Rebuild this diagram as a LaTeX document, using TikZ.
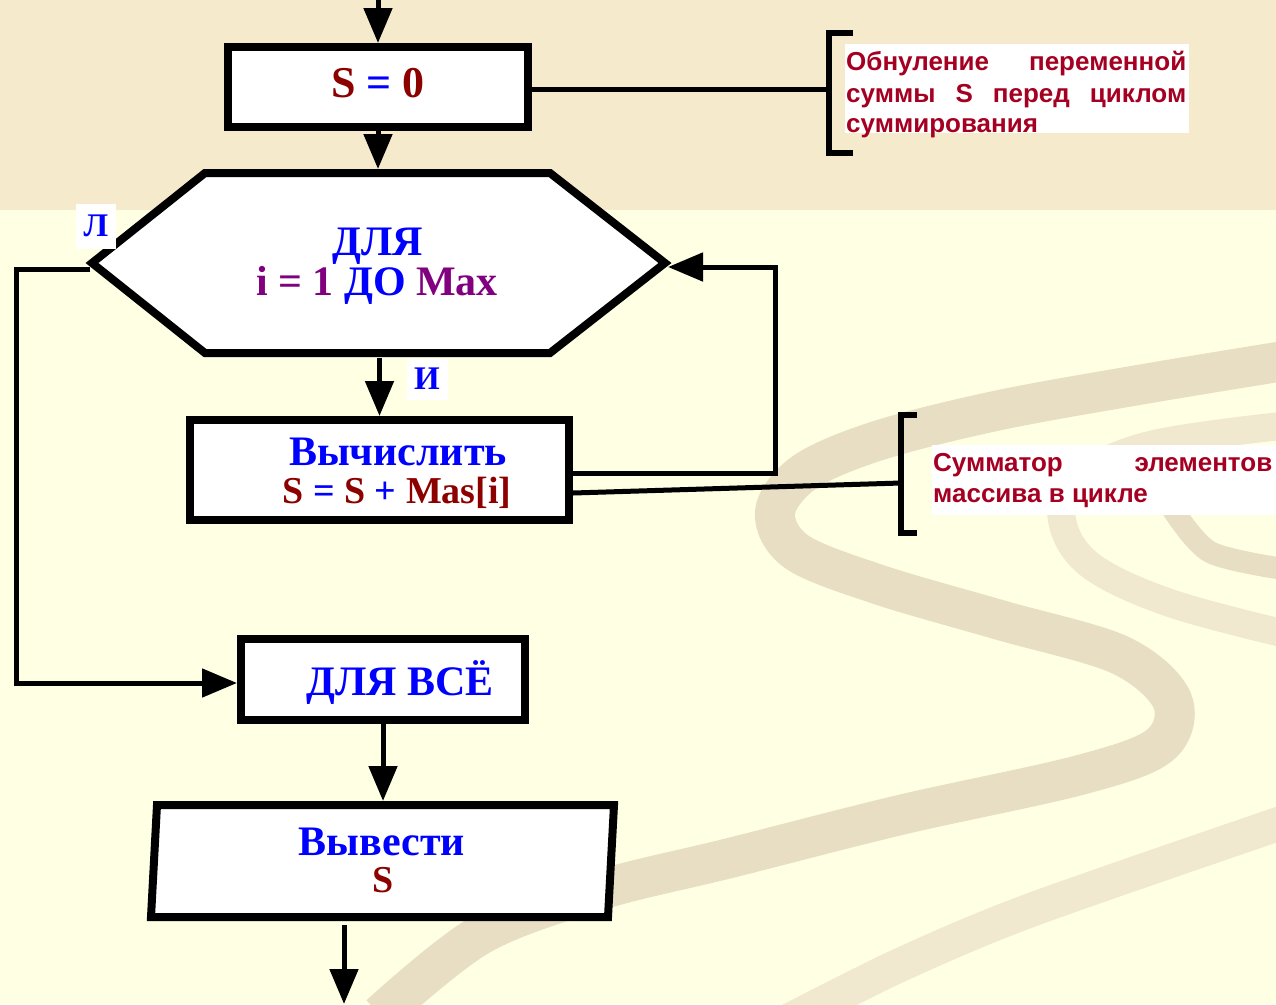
\documentclass[tikz,border=0pt]{standalone}
\usepackage{fontspec}
\setmainfont{Liberation Serif}
\newfontfamily\annfont{Liberation Sans}
\usetikzlibrary{arrows.meta}
\definecolor{topbg}{RGB}{245,234,203}
\definecolor{botbg}{RGB}{255,255,227}
\definecolor{rib}{RGB}{231,222,195}
\definecolor{ribl}{RGB}{241,233,207}
\definecolor{fblue}{RGB}{0,0,255}
\definecolor{fred}{RGB}{140,0,0}
\definecolor{fpurp}{RGB}{128,0,128}
\definecolor{annred}{RGB}{165,0,33}
\begin{document}
\begin{tikzpicture}[x=1pt,y=-1pt,
  conn/.style={line width=5pt, line join=miter},
  arr/.style={conn, -{Triangle[length=35pt,width=28pt]}},
  procbox/.style={draw=black, line width=8pt, fill=white, inner sep=0pt},
  ftxt/.style={font=\fontsize{42}{48}\selectfont\bfseries, anchor=base, inner sep=0pt},
  lbl/.style={fill=white, inner sep=0pt, font=\fontsize{33}{36}\selectfont\bfseries, text=fblue},
  annbg/.style={fill=white, inner sep=0pt, anchor=north west},
  anntxt/.style={font=\annfont\fontsize{26}{30}\selectfont\bfseries, text=annred, anchor=base west, inner sep=0pt},
  brk/.style={line width=5.5pt, line join=miter}]
\useasboundingbox (0,0) rectangle (1276,1004);
% background
\fill[botbg] (0,0) rectangle (1276,1004);
\fill[topbg] (0,0) rectangle (1276,210);
\begin{scope}
\clip (0,0) rectangle (1276,1004);
\draw[rib, line width=40pt] plot[smooth, tension=0.55] coordinates {(1290,360) (1150,383) (1000,410) (880,440) (805,472) (775,512) (797,552) (880,585) (1000,620) (1120,655) (1172,700) (1160,745) (1080,775) (900,815) (730,858) (600,890) (480,935) (380,1015)};
\draw[ribl, line width=34pt] plot[smooth] coordinates {(1290,820) (1031,910) (900,965) (790,1020)};
\draw[ribl, line width=28pt] plot[smooth, tension=0.6] coordinates {(1290,425) (1150,445) (1075,480) (1062,520) (1090,565) (1170,603) (1290,635)};
\draw[rib, line width=22pt] plot[smooth] coordinates {(1170,505) (1210,552) (1290,570)};
\end{scope}
% blocks
\node[procbox, minimum width=300pt, minimum height=80pt] (b1) at (378,87) {};
\draw[line width=8pt, fill=white] (205,173) -- (550,173) -- (665,263) -- (550,353) -- (205,353) -- (92,263) -- cycle;
\coordinate (hexT) at (378,169);
\coordinate (hexB) at (379.5,358);
\coordinate (hexL) at (90,269);
\coordinate (hexR) at (668,267);
\node[procbox, minimum width=379pt, minimum height=100pt] (b2) at (379.5,470) {};
\node[procbox, minimum width=284pt, minimum height=81pt] (b3) at (383,679.5) {};
\draw[line width=8pt, fill=white] (157,805) -- (614,805) -- (608,917) -- (151,917) -- cycle;
\coordinate (parT) at (383,801);
\coordinate (parB) at (344,925);
\coordinate (outB) at (344,1004);
\coordinate (inTop) at (378,0);
% connectors
\draw[arr] (inTop) -- (b1.north);
\draw[arr] (b1.south) -- (hexT);
\draw[arr] (hexB) -- (b2.north);
\draw[arr] (b3.south) -- (parT);
\draw[arr] (parB) -- (outB);
\coordinate (lc1) at (16,269);
\coordinate (lc2) at (16,683);
\draw[arr] (hexL) -- (lc1) -- (lc2) -- (lc2 -| b3.west);
\coordinate (rc1) at (775,473);
\coordinate (rc2) at (775,267);
\draw[arr] (rc1 -| b2.east) -- (rc1) -- (rc2) -- (hexR);
% annotation links
\coordinate (br1) at (829,89);
\draw[conn] (b1.east |- br1) -- (br1);
\draw[brk] (853,33) -- (829,33) -- (829,153) -- (853,153);
\coordinate (b2r) at (573,493);
\coordinate (br2) at (901,483);
\draw[conn] (b2r) -- (br2);
\draw[brk] (917,415) -- (901,415) -- (901,533) -- (917,533);
% texts
\node[ftxt, font=\fontsize{44}{50}\selectfont\bfseries] (t1) at (378,97) {\textcolor{fred}{S} \textcolor{fblue}{=} \textcolor{fred}{0}};
\node[ftxt, text=fblue] (t2) at (378,255) {ДЛЯ};
\node[ftxt] (t3) at (377,295) {\textcolor{fpurp}{i = 1} \textcolor{fblue}{ДО} \textcolor{fpurp}{Max}};
\node[ftxt, text=fblue] (t4) at (398,465) {Вычислить};
\node[ftxt, font=\fontsize{38}{44}\selectfont\bfseries] (t5) at (397,503) {\textcolor{fred}{S} \textcolor{fblue}{=} \textcolor{fred}{S} \textcolor{fblue}{+} \textcolor{fred}{Mas[i]}};
\node[ftxt, text=fblue] (t6) at (400,695) {ДЛЯ ВСЁ};
\node[ftxt, text=fblue] (t7) at (382,855) {Вывести};
\node[ftxt, text=fred, font=\fontsize{38}{44}\selectfont\bfseries] (t8) at (383,892) {S};
\node[lbl, minimum width=40pt, minimum height=45pt] (lL) at (96,226) {Л};
\node[lbl, minimum width=41pt, minimum height=41pt] (lI) at (427,379) {И};
% annotations
\node[annbg, minimum width=344pt, minimum height=89pt] (a1bg) at (845,44) {};
\node[anntxt] (a1l1) at (846,70) {\makebox[340pt][s]{Обнуление переменной}};
\node[anntxt] (a1l2) at (846,102) {\makebox[340pt][s]{суммы S перед циклом}};
\node[anntxt] (a1l3) at (846,132) {суммирования};
\node[annbg, minimum width=344pt, minimum height=70pt] (a2bg) at (932,445) {};
\node[anntxt] (a2l1) at (933,471) {\makebox[339pt][s]{Сумматор элементов}};
\node[anntxt] (a2l2) at (933,502) {массива в цикле};
\end{tikzpicture}
\end{document}
